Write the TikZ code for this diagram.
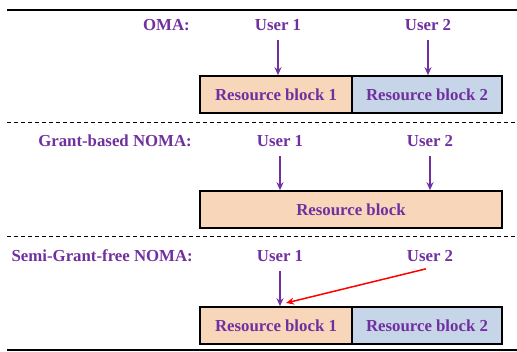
\documentclass[tikz,border=0pt]{standalone}
\usepackage{fontspec}
\setmainfont{Liberation Serif}
\usetikzlibrary{arrows.meta}
\definecolor{txtpurple}{HTML}{7030A0}
\definecolor{peach}{HTML}{F8D6BA}
\definecolor{lightblue}{HTML}{C6D6E8}
\tikzset{
  lbl/.style={text=txtpurple, font=\fontsize{16.8}{18}\selectfont\bfseries, inner sep=0pt},
  usr/.style={lbl, anchor=center},
  blk/.style={draw=black, line width=1.6pt, minimum height=37pt, inner sep=0pt, lbl},
  arr/.style={draw=txtpurple, line width=1.5pt, -{Stealth[length=8pt,width=7pt]}},
  redarr/.style={draw=red, line width=1.5pt, -{Stealth[length=8pt,width=7pt]}},
  sep/.style={line width=1.4pt},
  dsep/.style={line width=1pt, dash pattern=on 4pt off 3pt}
}
\begin{document}
\begin{tikzpicture}[x=1pt,y=-1pt]
\useasboundingbox (0,0) rectangle (517,352);
% separators
\coordinate (l1a) at (7,10); \coordinate (l1b) at (517,10);
\coordinate (l2a) at (7,123); \coordinate (l2b) at (517,123);
\coordinate (l3a) at (7,237); \coordinate (l3b) at (517,237);
\coordinate (l4a) at (7,350); \coordinate (l4b) at (517,350);
\draw[sep] (l1a) -- (l1b);
\draw[dsep] (l2a) -- (l2b);
\draw[dsep] (l3a) -- (l3b);
\draw[sep] (l4a) -- (l4b);

% OMA
\node[lbl, anchor=east] (t1) at (190,25) {OMA:};
\node[usr] (a1) at (278,25) {User 1};
\node[usr] (a2) at (428,25) {User 2};
\node[blk, fill=peach, minimum width=152pt] (ab1) at (276,94.5) {Resource block 1};
\node[blk, fill=lightblue, minimum width=150pt] (ab2) at (427,94.5) {Resource block 2};
\draw[arr] ([yshift=-9pt]a1.south) -- (a1 |- ab1.north);
\draw[arr] ([yshift=-9pt]a2.south) -- (a2 |- ab2.north);

% Grant-based NOMA
\node[lbl, anchor=east] (t2) at (192,141) {Grant-based NOMA:};
\node[usr] (b1) at (280,141) {User 1};
\node[usr] (b2) at (430,141) {User 2};
\node[blk, fill=peach, minimum width=302pt] (bb) at (351,209.5) {Resource block};
\draw[arr] ([yshift=-9pt]b1.south) -- (b1 |- bb.north);
\draw[arr] ([yshift=-9pt]b2.south) -- (b2 |- bb.north);

% Semi-Grant-free NOMA
\node[lbl, anchor=east] (t3) at (193,256) {Semi-Grant-free NOMA:};
\node[usr] (c1) at (280,256) {User 1};
\node[usr] (c2) at (430,256) {User 2};
\node[blk, fill=peach, minimum width=152pt] (cb1) at (276,325.5) {Resource block 1};
\node[blk, fill=lightblue, minimum width=150pt] (cb2) at (427,325.5) {Resource block 2};
\draw[arr] ([yshift=-9pt]c1.south) -- (c1 |- cb1.north);
\coordinate (rtip) at (286,303);
\draw[redarr] ([xshift=-4pt,yshift=-7pt]c2.south) -- (rtip);
\end{tikzpicture}
\end{document}
